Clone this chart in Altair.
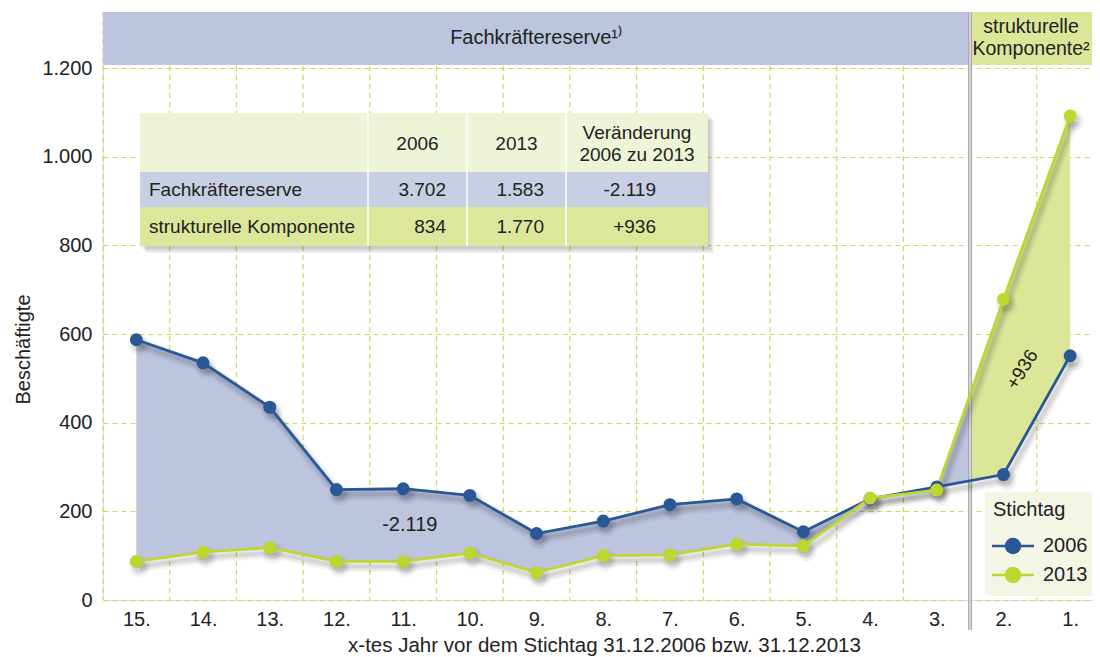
import json
import altair as alt
import pandas as pd

# ------------------------------------------------------------------ data
categories = ["15.", "14.", "13.", "12.", "11.", "10.", "9.", "8.",
              "7.", "6.", "5.", "4.", "3.", "2.", "1."]
values_2006 = [587, 535, 435, 249, 251, 236, 150, 178, 215, 228, 154, 228, 255, 283, 551]
values_2013 = [87, 108, 118, 87, 87, 106, 62, 100, 102, 126, 122, 230, 248, 678, 1092]
years = ["2006", "2013"]
n_reserve = 13  # 15. ... 3. = Fachkräftereserve, 2. and 1. = strukturelle Komponente

section_labels = ["Fachkräftereserve¹⁾", "strukturelle\nKomponente²"]
table_rows = ["Fachkräftereserve", "strukturelle Komponente"]
table_cols = ["2006", "2013", "Veränderung\n2006 zu 2013"]
table_2006 = [3702, 834]
table_2013 = [1583, 1770]
table_change = [-2119, 936]
y_ticks = [0, 200, 400, 600, 800, 1000, 1200]
y_title = "Beschäftigte"
x_title = "x-tes Jahr vor dem Stichtag 31.12.2006 bzw. 31.12.2013"
legend_title = "Stichtag"

# ---------------------------------------------------------------- layout / style
W, H = 989, 588
BAND = 66.7
X_MIN = -0.5
X_MAX = X_MIN + W / BAND
Y_MAX = 1326.4
BANNER_LOW = 1207
FONT = "Liberation Sans"
TXT = "#222222"
C06, C13 = "#2a5897", "#bed630"
FILL_RES, FILL_STR = "#bcc4de", "#dbe699"
GRID = "#c9dc55"
TBL_X = [37, 265, 364, 463, 605]
TBL_Y = [101, 160, 195, 234]
TBL_FILL = ["#eef4d6", "#c8cee3", "#dce79b"]
LEG_BOX = [882, 989, 480, 577]  # legend box in plot pixels (x0, x1, y0, y1)
ANN_POS = [(4.1, 169), (13.28, 520)]
LEGEND_PATH = "M-3,0H3M-1,0A1,1,0,1,0,1,0A1,1,0,1,0,-1,0"
LH = 22  # line height for two-line labels


def de(n, sign=False):
    s = f"{abs(n):,}".replace(",", ".")
    if n < 0:
        return "-" + s
    return ("+" + s) if sign else s


xs = alt.Scale(domain=[X_MIN, X_MAX], nice=False, zero=False)
ys = alt.Scale(domain=[0, Y_MAX], nice=False, zero=False)

x_axis = alt.Axis(values=list(range(len(categories))),
                  labelExpr=f"{json.dumps(categories)}[round(datum.value)]",
                  grid=False, ticks=False, tickSize=0, domain=False,
                  labelFont=FONT, labelFontSize=20, labelColor=TXT, labelPadding=9,
                  title=x_title, titleFont=FONT, titleFontSize=20.5, titleFontWeight="normal",
                  titleColor=TXT, titlePadding=6, titleX=501, titleAlign="center")
y_axis = alt.Axis(values=y_ticks,
                  labelExpr="replace(format(datum.value, ','), ',', '.')",
                  grid=True, gridDash=[5, 4], gridColor=GRID, gridWidth=1.2,
                  ticks=False, tickSize=0, domain=False,
                  labelFont=FONT, labelFontSize=20, labelColor=TXT, labelPadding=11,
                  title=y_title, titleFont=FONT, titleFontSize=20, titleFontWeight="normal",
                  titleColor=TXT, titleX=-80, titleY=337, titleBaseline="middle",
                  titleAlign="center")


def X(field):
    return alt.X(field, scale=xs, axis=x_axis)


def Y(field):
    return alt.Y(field, scale=ys, axis=y_axis)


split = n_reserve - 0.5
last = len(categories) - 0.5

# long table for lines / points
rows = []
for yr, vals in zip(years, [values_2006, values_2013]):
    for i, v in enumerate(vals):
        rows.append({"idx": i, "cat": categories[i], "year": yr, "value": v})
df = pd.DataFrame(rows)

# area between the two series, split at the section boundary
b06 = (values_2006[n_reserve - 1] + values_2006[n_reserve]) / 2
b13 = (values_2013[n_reserve - 1] + values_2013[n_reserve]) / 2
res_rows = [{"idx": i, "lo": values_2006[i], "hi": values_2013[i]} for i in range(n_reserve)]
res_rows.append({"idx": split, "lo": b06, "hi": b13})
str_rows = [{"idx": split, "lo": b06, "hi": b13}]
str_rows += [{"idx": i, "lo": values_2006[i], "hi": values_2013[i]} for i in range(n_reserve, len(categories))]

area_res = alt.Chart(pd.DataFrame(res_rows)).mark_area(color=FILL_RES, opacity=1).encode(
    x=X("idx:Q"), y=Y("lo:Q"), y2="hi:Q")
area_str = alt.Chart(pd.DataFrame(str_rows)).mark_area(color=FILL_STR, opacity=1).encode(
    x=X("idx:Q"), y=Y("lo:Q"), y2="hi:Q")

# vertical dashed grid at band boundaries
vgrid = alt.Chart(pd.DataFrame({"idx": [i - 0.5 for i in range(len(categories))]})).mark_rule(
    color=GRID, strokeDash=[5, 4], strokeWidth=1.2).encode(
    x=X("idx:Q"), y=alt.value(0), y2=alt.value(H))

# section banners
ban = pd.DataFrame({
    "x0": [X_MIN, split], "x1": [split, last],
    "y0": [BANNER_LOW, BANNER_LOW], "y1": [Y_MAX, Y_MAX],
    "tx": [(X_MIN + split) / 2, (split + X_MAX) / 2],
    "ty": [(BANNER_LOW + Y_MAX) / 2] * 2,
    "text": section_labels,
})
ban_res = alt.Chart(ban.iloc[[0]]).mark_rect(color=FILL_RES, clip=True).encode(
    x=X("x0:Q"), x2="x1:Q", y=Y("y0:Q"), y2="y1:Q")
ban_str = alt.Chart(ban.iloc[[1]]).mark_rect(color=FILL_STR, clip=True).encode(
    x=X("x0:Q"), x2="x1:Q", y=Y("y0:Q"), y2="y1:Q")
ban_txt1 = alt.Chart(ban.iloc[[0]]).mark_text(font=FONT, fontSize=20, color=TXT,
                                              baseline="middle", align="center").encode(
    x=X("tx:Q"), y=Y("ty:Q"), text="text:N")
ban_txt2 = alt.Chart(ban.iloc[[1]]).mark_text(font=FONT, fontSize=19.5, color=TXT, lineBreak="\n",
                                              lineHeight=LH, dy=-LH / 2,
                                              baseline="middle", align="center").encode(
    x=X("tx:Q"), y=Y("ty:Q"), text="text:N")

# separator
sep_df = pd.DataFrame({"idx": [split]})
sep_outer = alt.Chart(sep_df).mark_rule(color="#a9a9a9", strokeWidth=4).encode(
    x=X("idx:Q"), y=alt.value(0), y2=alt.value(H + 30))
sep_inner = alt.Chart(sep_df).mark_rule(color="#e4e4e4", strokeWidth=1.4).encode(
    x=X("idx:Q"), y=alt.value(0), y2=alt.value(H + 30))


def soft_shadow(x0, x1, y0, y1):
    d = pd.DataFrame({"x": [x0 + k for k in (2, 4, 6)], "x2": [x1 + k for k in (2, 4, 6)],
                      "y": [y0 + k for k in (3, 5, 7)], "y2": [y1 + k for k in (3, 5, 7)]})
    return alt.Chart(d).mark_rect(color="#000000", opacity=0.07).encode(
        x=alt.X("x:Q", scale=None), x2="x2:Q", y=alt.Y("y:Q", scale=None), y2="y2:Q")


# table
tbl_shadow = soft_shadow(TBL_X[0], TBL_X[-1], TBL_Y[0], TBL_Y[-1])
leg_shadow = soft_shadow(*LEG_BOX)
cells = pd.DataFrame({"x": [TBL_X[0]] * 3, "x2": [TBL_X[-1]] * 3,
                      "y": TBL_Y[:-1], "y2": TBL_Y[1:], "c": TBL_FILL})
tbl_rect = alt.Chart(cells).mark_rect().encode(
    x=alt.X("x:Q", scale=None), x2="x2:Q", y=alt.Y("y:Q", scale=None), y2="y2:Q",
    fill=alt.Fill("c:N", scale=None))
tbl_sep = alt.Chart(pd.DataFrame({"x": TBL_X[1:-1]})).mark_rule(color="white", strokeWidth=1.5).encode(
    x=alt.X("x:Q", scale=None), y=alt.value(TBL_Y[0]), y2=alt.value(TBL_Y[-1]))

hdr_y = (TBL_Y[0] + TBL_Y[1]) / 2 + 1
row_y = [(TBL_Y[1] + TBL_Y[2]) / 2, (TBL_Y[2] + TBL_Y[3]) / 2]
hdr_df = pd.DataFrame({"x": [(TBL_X[k] + TBL_X[k + 1]) / 2 for k in range(1, 4)],
                       "y": [hdr_y] * 3, "text": table_cols})
tbl_hdr1 = alt.Chart(hdr_df.iloc[[0, 1]]).mark_text(font=FONT, fontSize=19, color=TXT, align="center",
                                                    baseline="middle").encode(
    x=alt.X("x:Q", scale=None), y=alt.Y("y:Q", scale=None), text="text:N")
tbl_hdr2 = alt.Chart(hdr_df.iloc[[2]]).mark_text(font=FONT, fontSize=19, color=TXT, align="center",
                                                 baseline="middle", lineBreak="\n", lineHeight=LH,
                                                 dy=-LH / 2).encode(
    x=alt.X("x:Q", scale=None), y=alt.Y("y:Q", scale=None), text="text:N")
lab_df = pd.DataFrame({"x": [TBL_X[0] + 9] * 2, "y": row_y, "text": table_rows})
tbl_lab = alt.Chart(lab_df).mark_text(font=FONT, fontSize=19, color=TXT, align="left",
                                      baseline="middle").encode(
    x=alt.X("x:Q", scale=None), y=alt.Y("y:Q", scale=None), text="text:N")
val_text = [de(v) for v in table_2006] + [de(v) for v in table_2013] + \
           [de(v, sign=True) for v in table_change]
val_x = [TBL_X[2] - 21] * 2 + [TBL_X[3] - 22] * 2 + [TBL_X[4] - 52] * 2
val_df = pd.DataFrame({"x": val_x, "y": row_y * 3, "text": val_text})
tbl_val = alt.Chart(val_df).mark_text(font=FONT, fontSize=19, color=TXT, align="right",
                                      baseline="middle").encode(
    x=alt.X("x:Q", scale=None), y=alt.Y("y:Q", scale=None), text="text:N")

# series
year_scale = alt.Scale(domain=years, range=[C06, C13])

shadow_layers = []
for w, op in [(12, 0.04), (8, 0.055), (4, 0.07)]:
    shadow_layers.append(alt.Chart(df).mark_line(color="#000000", opacity=op, strokeWidth=w,
                                                 xOffset=3, yOffset=5).encode(
        x=X("idx:Q"), y=Y("value:Q"), detail="year:N"))
for s, op in [(460, 0.045), (280, 0.06), (160, 0.07)]:
    shadow_layers.append(alt.Chart(df).mark_circle(color="#000000", opacity=op, size=s,
                                                   xOffset=3, yOffset=5).encode(
        x=X("idx:Q"), y=Y("value:Q")))

lines = alt.Chart(df).mark_line(strokeWidth=2.8).encode(
    x=X("idx:Q"), y=Y("value:Q"),
    color=alt.Color("year:N", scale=year_scale, legend=None))

leg = alt.Legend(title=legend_title, orient="none", legendX=LEG_BOX[0], legendY=LEG_BOX[2],
                 fillColor="#f3f6e5", padding=8,
                 titleFont=FONT, titleFontSize=20, titleFontWeight="normal", titleColor=TXT,
                 titlePadding=16, labelFont=FONT, labelFontSize=20, labelColor=TXT,
                 symbolType=LEGEND_PATH, symbolSize=196, symbolStrokeWidth=2.5,
                 symbolOffset=10, labelOffset=20, rowPadding=5)
points = alt.Chart(df).mark_point(filled=True, size=110, strokeWidth=2.5, opacity=1).encode(
    x=X("idx:Q"), y=Y("value:Q"),
    fill=alt.Fill("year:N", scale=year_scale, legend=leg),
    stroke=alt.Stroke("year:N", scale=year_scale, legend=leg))

ann_df = pd.DataFrame({"idx": [p[0] for p in ANN_POS], "v": [p[1] for p in ANN_POS],
                       "text": [de(table_change[0]), de(table_change[1], sign=True)]})
ann1 = alt.Chart(ann_df.iloc[[0]]).mark_text(font=FONT, fontSize=20, color=TXT,
                                             baseline="middle", align="center").encode(
    x=X("idx:Q"), y=Y("v:Q"), text="text:N")
ann2 = alt.Chart(ann_df.iloc[[1]]).mark_text(font=FONT, fontSize=19, color=TXT, angle=302,
                                             baseline="middle", align="center").encode(
    x=X("idx:Q"), y=Y("v:Q"), text="text:N")

chart = alt.layer(
    vgrid, area_res, area_str, ban_res, ban_str, ban_txt1, ban_txt2, sep_outer, sep_inner,
    tbl_shadow, tbl_rect, tbl_sep, tbl_hdr1, tbl_hdr2, tbl_lab, tbl_val,
    *shadow_layers, lines, points, ann1, ann2, leg_shadow,
).properties(
    width=W, height=H,
    padding={"left": 95, "top": 4, "right": 0, "bottom": 57},
    autosize=alt.AutoSizeParams(type="none"),
    background="white",
).configure_view(stroke=None).configure(font=FONT)

chart.save("out.html", embed_options={"renderer": "svg", "actions": False})
